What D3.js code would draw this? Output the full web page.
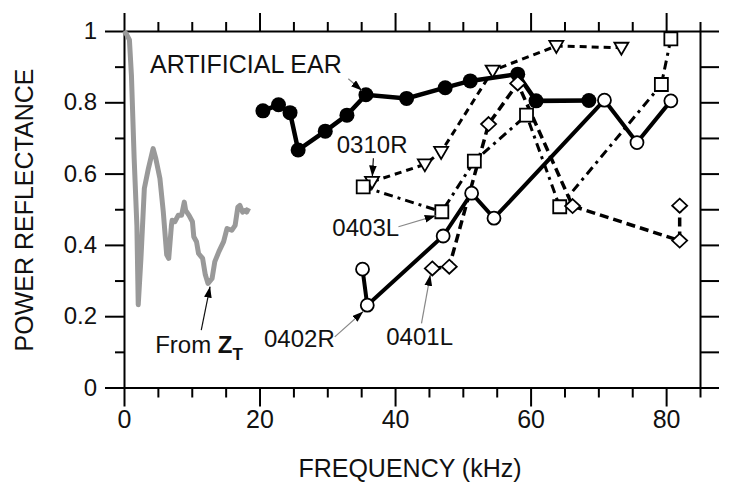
<!DOCTYPE html>
<html>
<head>
<meta charset="utf-8">
<script src="https://cdn.jsdelivr.net/npm/d3@7"></script>
<style>
  body { margin: 0; background: #fff; }
  svg text { font-family: "Liberation Sans", Arial, sans-serif; fill: #111; }
</style>
</head>
<body>
<svg id="chart" width="729" height="500"></svg>
<script>
// Data: frequency (kHz) and power reflectance

// grey curve computed from Z_T
const ztFreq = [0, 0.4, 0.8, 1.1, 1.5, 1.9, 2.1, 2.5, 3.0, 3.6, 4.0, 4.3, 4.7, 5.3, 5.8, 6.3, 6.6, 7.0, 7.1, 7.5, 8.0, 8.5, 8.9, 9.1, 9.6, 10.1, 10.3, 10.7, 11.0, 11.6, 12.0, 12.4, 13.0, 13.4, 14.0, 14.7, 15.2, 15.9, 16.4, 16.8, 17.1, 17.5, 17.9, 18.1, 18.4];
const ztRefl = [1.0, 0.99, 0.975, 0.874, 0.642, 0.455, 0.232, 0.362, 0.558, 0.614, 0.646, 0.67, 0.642, 0.586, 0.492, 0.372, 0.362, 0.455, 0.469, 0.465, 0.483, 0.483, 0.52, 0.497, 0.483, 0.465, 0.423, 0.409, 0.376, 0.362, 0.316, 0.292, 0.306, 0.353, 0.381, 0.409, 0.446, 0.441, 0.455, 0.506, 0.511, 0.492, 0.497, 0.492, 0.503];

// artificial ear (filled circles)
const earFreq = [20.5, 22.8, 24.5, 25.7, 29.7, 32.9, 35.7, 41.7, 47.4, 51.1, 58.1, 60.8, 68.6];
const earRefl = [0.776, 0.793, 0.771, 0.666, 0.719, 0.764, 0.821, 0.811, 0.841, 0.86, 0.879, 0.804, 0.805];

// 0310R (triangles)
const r0310Freq = [36.6, 44.4, 46.8, 54.4, 63.8, 73.4];
const r0310Refl = [0.577, 0.626, 0.661, 0.889, 0.958, 0.953];

// 0403L (squares)
const l0403Freq = [35.3, 46.9, 51.7, 59.4, 64.3, 79.3, 80.7];
const l0403Refl = [0.563, 0.493, 0.635, 0.764, 0.507, 0.85, 0.978];

// 0401L (diamonds)
const l0401Freq = [45.5, 48.0, 53.8, 58.1, 66.2, 82.0, 82.0];
const l0401Refl = [0.334, 0.339, 0.739, 0.853, 0.509, 0.412, 0.51];

// 0402R (open circles)
const r0402Freq = [35.2, 35.9, 47.1, 51.3, 54.6, 70.9, 75.7, 80.7];
const r0402Refl = [0.332, 0.231, 0.425, 0.545, 0.475, 0.806, 0.687, 0.804];

const xTicks = d3.range(0, 86, 5);
const yTicks = d3.range(0, 11).map(i => i / 10);

// annotations, in data units
const notes = [
  { text: "ARTIFICIAL EAR", lx: 3.84, ly: 0.882, anchor: "start", size: 25, from: [33.1, 0.866], to: [35.1, 0.833], col: "#888" },
  { text: "0310R", lx: 31.4, ly: 0.658, anchor: "start", size: 24, from: [36.8, 0.643], to: [36.65, 0.592], col: "#111" },
  { text: "0403L", lx: 40.6, ly: 0.425, anchor: "end", size: 24, from: [40.5, 0.451], to: [46.0, 0.482], col: "#888" },
  { text: "0402R", lx: 31.1, ly: 0.114, anchor: "end", size: 24, from: [31.1, 0.142], to: [35.3, 0.213], col: "#888" },
  { text: "0401L", lx: 38.7, ly: 0.119, anchor: "start", size: 24, from: [43.9, 0.18], to: [45.2, 0.316], col: "#888" },
  { text: null, lx: 4.6, ly: 0.097, anchor: "start", size: 24, from: [11.4, 0.161], to: [12.7, 0.283], col: "#111" }
];

const svg = d3.select("#chart");

const x = d3.scaleLinear().domain([0, 85]).range([124, 700]);
const y = d3.scaleLinear().domain([0, 1]).range([387.5, 31]);

const zip = (xs, ys) => xs.map((v, i) => [v, ys[i]]);
const line = d3.line().x(d => x(d[0])).y(d => y(d[1]));

// arrow head
svg.append("defs").append("marker")
  .attr("id", "head")
  .attr("markerUnits", "userSpaceOnUse")
  .attr("viewBox", "0 0 10 7")
  .attr("markerWidth", 11)
  .attr("markerHeight", 8)
  .attr("refX", 10)
  .attr("refY", 3.5)
  .attr("orient", "auto")
  .append("path")
  .attr("d", "M0,0L10,3.5L0,7Z")
  .attr("fill", "#000");

// ---- axes ----
const isMajorX = d => d % 20 === 0;
const isMajorY = d => Math.round(d * 10) % 2 === 0;

const styleAxis = g => {
  g.select(".domain").attr("stroke", "#000").attr("stroke-width", 2);
  g.selectAll(".tick line").attr("stroke", "#000").attr("stroke-width", 2);
};

const xAxisBottom = svg.append("g")
  .attr("transform", `translate(0,${y(0)})`)
  .call(d3.axisBottom(x).tickValues(xTicks).tickSize(10).tickSizeOuter(0)
    .tickFormat(d => isMajorX(d) ? d : ""))
  .call(styleAxis);
xAxisBottom.selectAll(".tick line").filter(isMajorX).attr("y2", 19);
xAxisBottom.selectAll(".tick text").attr("y", 40).attr("dy", 0).attr("font-size", 25);

const xAxisTop = svg.append("g")
  .attr("transform", `translate(0,${y(1)})`)
  .call(d3.axisTop(x).tickValues(xTicks).tickSize(9).tickSizeOuter(0).tickFormat(""))
  .call(styleAxis);
xAxisTop.selectAll(".tick line").filter(isMajorX).attr("y2", -18);

const yAxisLeft = svg.append("g")
  .attr("transform", `translate(${x(0)},0)`)
  .call(d3.axisLeft(y).tickValues(yTicks).tickSize(9).tickSizeOuter(0)
    .tickFormat(d => isMajorY(d) ? (d === 0 || d === 1 ? String(d) : d.toFixed(1)) : ""))
  .call(styleAxis);
yAxisLeft.selectAll(".tick line").filter(isMajorY).attr("x2", -19);
yAxisLeft.selectAll(".tick text").attr("x", -27).attr("font-size", 24);

svg.append("g")
  .attr("transform", `translate(${x(85)},0)`)
  .call(d3.axisRight(y).tickValues(yTicks).tickSize(19).tickSizeOuter(0).tickFormat(""))
  .call(styleAxis);

svg.selectAll(".tick text").attr("fill", "#111").style("font-family", '"Liberation Sans", Arial, sans-serif');

// axis titles
svg.append("text")
  .attr("transform", "translate(33,210) rotate(-90)")
  .attr("text-anchor", "middle")
  .attr("font-size", 25)
  .text("POWER REFLECTANCE");

svg.append("text")
  .attr("x", 410).attr("y", 477)
  .attr("text-anchor", "middle")
  .attr("font-size", 25)
  .text("FREQUENCY (kHz)");

// ---- series ----
svg.append("path")
  .attr("d", line(zip(ztFreq, ztRefl)))
  .attr("fill", "none")
  .attr("stroke", "#999")
  .attr("stroke-width", 5)
  .attr("stroke-linejoin", "round");

const series = [
  { pts: zip(earFreq, earRefl), width: 4.5, dash: null, shape: "dot" },
  { pts: zip(r0402Freq, r0402Refl), width: 4, dash: null, shape: "circle" },
  { pts: zip(r0310Freq, r0310Refl), width: 3, dash: "7,5", shape: "tri" },
  { pts: zip(l0403Freq, l0403Refl), width: 3, dash: "9,5,3,5", shape: "square" },
  { pts: zip(l0401Freq, l0401Refl), width: 3.5, dash: "9,5", shape: "diamond" }
];

series.forEach(s => {
  svg.append("path")
    .attr("d", line(s.pts))
    .attr("fill", "none")
    .attr("stroke", "#000")
    .attr("stroke-width", s.width)
    .attr("stroke-dasharray", s.dash);
});

const shapes = {
  dot: "M7.5,0A7.5,7.5 0 1,1 -7.5,0A7.5,7.5 0 1,1 7.5,0Z",
  circle: "M6.5,0A6.5,6.5 0 1,1 -6.5,0A6.5,6.5 0 1,1 6.5,0Z",
  tri: "M-7,-5L7,-5L0,7Z",
  square: "M-6.5,-6.5H6.5V6.5H-6.5Z",
  diamond: "M0,-7L7.5,0L0,7L-7.5,0Z"
};

series.forEach(s => {
  svg.append("g")
    .selectAll("path")
    .data(s.pts)
    .join("path")
    .attr("transform", d => `translate(${x(d[0])},${y(d[1])})`)
    .attr("d", shapes[s.shape])
    .attr("fill", s.shape === "dot" ? "#000" : "#fff")
    .attr("stroke", "#000")
    .attr("stroke-width", s.shape === "dot" ? 0 : 1.8);
});

// ---- annotations ----
notes.forEach(n => {
  svg.append("line")
    .attr("x1", x(n.from[0])).attr("y1", y(n.from[1]))
    .attr("x2", x(n.to[0])).attr("y2", y(n.to[1]))
    .attr("stroke", n.col)
    .attr("stroke-width", 1.2)
    .attr("marker-end", "url(#head)");

  const t = svg.append("text")
    .attr("x", x(n.lx)).attr("y", y(n.ly))
    .attr("text-anchor", n.anchor)
    .attr("font-size", n.size);
  if (n.text) {
    t.text(n.text);
  } else {
    t.append("tspan").text("From ");
    t.append("tspan").attr("font-weight", "bold").text("Z");
    t.append("tspan").attr("font-weight", "bold").attr("font-size", 17).attr("dy", 7).text("T");
  }
});
</script>
</body>
</html>
